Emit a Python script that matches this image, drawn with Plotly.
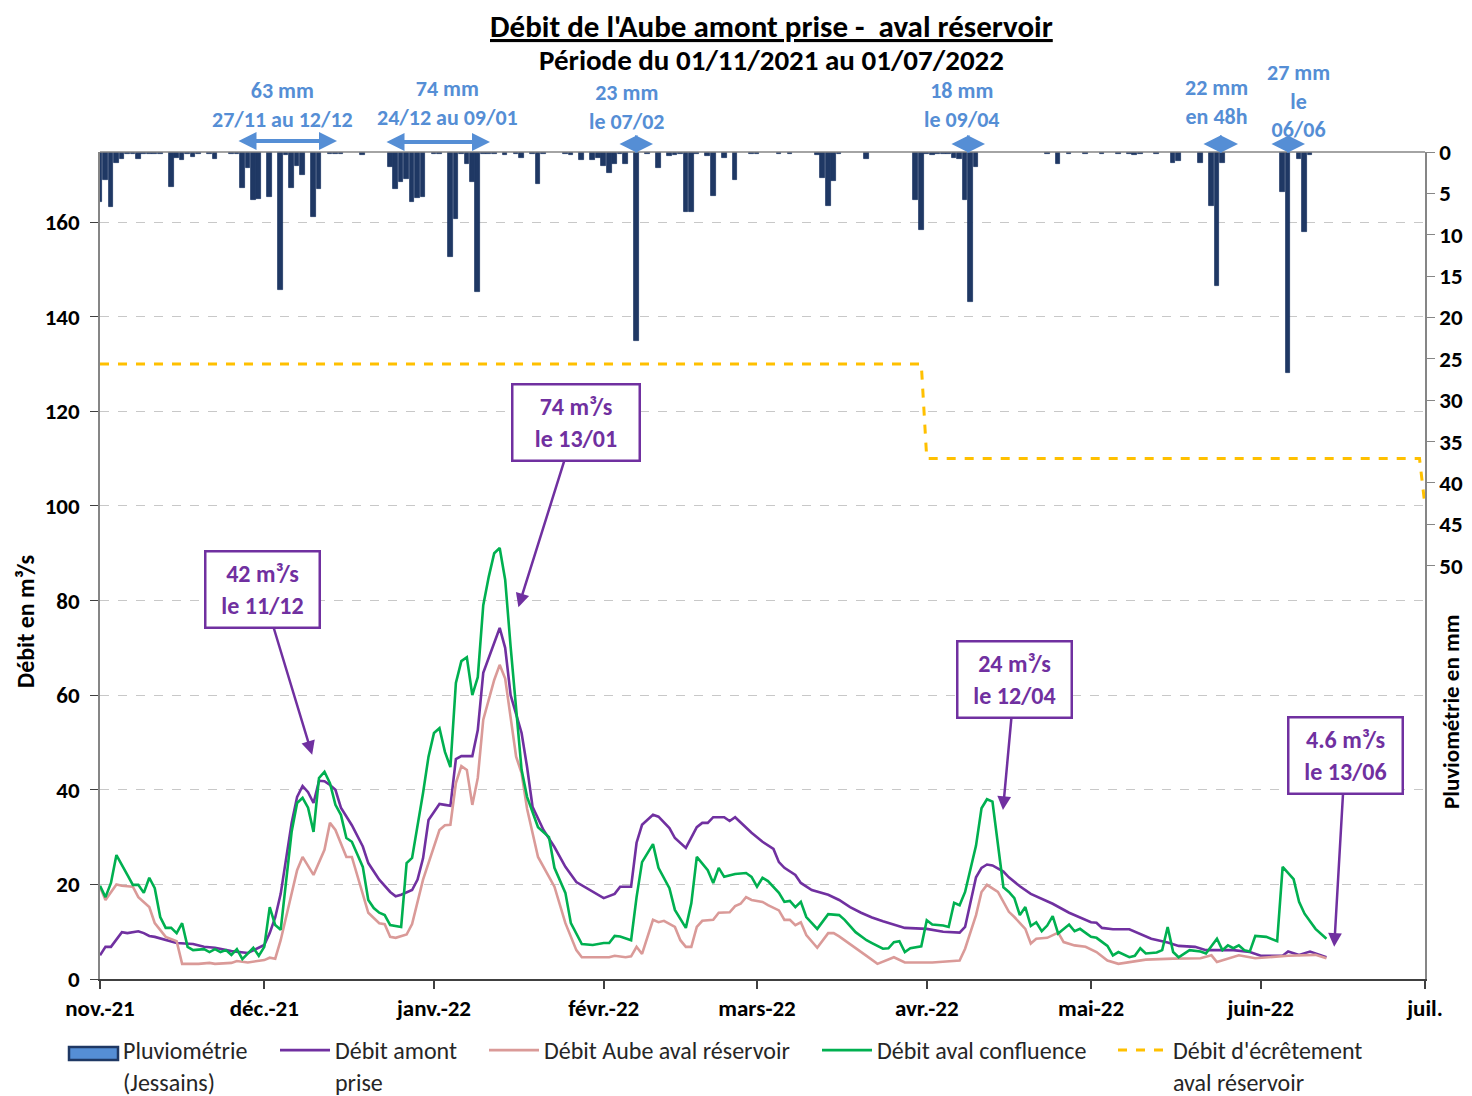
import plotly.graph_objects as go

# Pluviométrie à Jessains (mm / jour)
pluie_dates = [
    "2021-11-01", "2021-11-02", "2021-11-03", "2021-11-04", "2021-11-05", "2021-11-06", "2021-11-07",
    "2021-11-08", "2021-11-09", "2021-11-10", "2021-11-11", "2021-11-12", "2021-11-14", "2021-11-15",
    "2021-11-16", "2021-11-17", "2021-11-18", "2021-11-19", "2021-11-21", "2021-11-22", "2021-11-25",
    "2021-11-26", "2021-11-27", "2021-11-28", "2021-11-29", "2021-11-30", "2021-12-02", "2021-12-04",
    "2021-12-05", "2021-12-06", "2021-12-07", "2021-12-08", "2021-12-10", "2021-12-11", "2021-12-13",
    "2021-12-14", "2021-12-15", "2021-12-19", "2021-12-24", "2021-12-25", "2021-12-26", "2021-12-27",
    "2021-12-28", "2021-12-29", "2021-12-30", "2022-01-01", "2022-01-02", "2022-01-04", "2022-01-05",
    "2022-01-06", "2022-01-07", "2022-01-08", "2022-01-09", "2022-01-10", "2022-01-11", "2022-01-12",
    "2022-01-14", "2022-01-16", "2022-01-17", "2022-01-19", "2022-01-20", "2022-01-21", "2022-01-25",
    "2022-01-26", "2022-01-28", "2022-01-30", "2022-01-31", "2022-02-01", "2022-02-02", "2022-02-03",
    "2022-02-04", "2022-02-05", "2022-02-07", "2022-02-09", "2022-02-11", "2022-02-13", "2022-02-14",
    "2022-02-15", "2022-02-16", "2022-02-17", "2022-02-18", "2022-02-20", "2022-02-21", "2022-02-23",
    "2022-02-25", "2022-02-28", "2022-03-01", "2022-03-05", "2022-03-07", "2022-03-12", "2022-03-13",
    "2022-03-14", "2022-03-15", "2022-03-16", "2022-03-21", "2022-03-30", "2022-03-31", "2022-04-01",
    "2022-04-02", "2022-04-03", "2022-04-04", "2022-04-05", "2022-04-06", "2022-04-07", "2022-04-08",
    "2022-04-09", "2022-04-10", "2022-04-23", "2022-04-25", "2022-04-27", "2022-04-30", "2022-05-03",
    "2022-05-06", "2022-05-08", "2022-05-09", "2022-05-10", "2022-05-13", "2022-05-16", "2022-05-17",
    "2022-05-21", "2022-05-23", "2022-05-24", "2022-05-25", "2022-06-05", "2022-06-06", "2022-06-08",
    "2022-06-09", "2022-06-10",
]
pluie_mm = [
    6.0, 3.4, 6.7, 1.3, 0.9, 0.3, 0.3,
    0.9, 0.2, 0.2, 0.3, 0.2, 4.2, 0.7,
    1.0, 0.3, 0.6, 0.2, 0.2, 0.9, 0.2,
    0.3, 4.4, 1.9, 5.8, 5.7, 5.5, 16.7,
    0.4, 4.4, 1.7, 2.8, 7.8, 4.5, 0.3,
    0.2, 0.2, 0.4, 1.8, 4.5, 3.6, 3.3,
    6.0, 5.6, 5.5, 0.3, 0.3, 12.7, 8.1,
    0.2, 1.5, 3.6, 16.9, 0.3, 0.3, 0.2,
    0.4, 0.3, 0.7, 0.3, 3.9, 0.2, 0.3,
    0.4, 1.0, 1.0, 0.7, 1.7, 2.5, 1.5,
    0.3, 1.5, 22.8, 0.3, 1.9, 0.5, 0.4,
    0.3, 7.3, 7.3, 0.3, 0.5, 5.3, 0.7,
    3.4, 0.3, 0.3, 0.3, 0.3, 0.4, 3.1,
    6.5, 3.5, 0.3, 0.9, 5.8, 9.4, 0.3,
    0.4, 0.3, 0.3, 0.3, 0.7, 0.9, 5.8,
    18.1, 1.8, 0.3, 1.5, 0.2, 0.2, 0.2,
    0.2, 0.2, 0.4, 0.2, 0.2, 1.3, 1.1,
    1.3, 6.5, 16.2, 1.3, 4.8, 26.7, 0.9,
    9.7, 0.4,
]

# Débit amont prise (m3/s)
amont_dates = [
    "2021-11-01", "2021-11-02", "2021-11-03", "2021-11-05", "2021-11-06", "2021-11-08", "2021-11-09",
    "2021-11-10", "2021-11-11", "2021-11-13", "2021-11-15", "2021-11-18", "2021-11-20", "2021-11-22",
    "2021-11-25", "2021-11-28", "2021-11-30", "2021-12-01", "2021-12-02", "2021-12-03", "2021-12-04",
    "2021-12-05", "2021-12-06", "2021-12-07", "2021-12-08", "2021-12-09", "2021-12-10", "2021-12-11",
    "2021-12-12", "2021-12-13", "2021-12-14", "2021-12-15", "2021-12-17", "2021-12-19", "2021-12-20",
    "2021-12-22", "2021-12-24", "2021-12-25", "2021-12-26", "2021-12-28", "2021-12-29", "2021-12-30",
    "2021-12-31", "2022-01-01", "2022-01-02", "2022-01-03", "2022-01-04", "2022-01-05", "2022-01-06",
    "2022-01-08", "2022-01-09", "2022-01-10", "2022-01-11", "2022-01-12", "2022-01-13", "2022-01-14",
    "2022-01-15", "2022-01-17", "2022-01-18", "2022-01-19", "2022-01-21", "2022-01-23", "2022-01-25",
    "2022-01-27", "2022-01-30", "2022-02-01", "2022-02-03", "2022-02-04", "2022-02-06", "2022-02-07",
    "2022-02-08", "2022-02-10", "2022-02-11", "2022-02-13", "2022-02-14", "2022-02-16", "2022-02-18",
    "2022-02-19", "2022-02-20", "2022-02-21", "2022-02-23", "2022-02-24", "2022-02-25", "2022-02-27",
    "2022-02-28", "2022-03-02", "2022-03-04", "2022-03-05", "2022-03-06", "2022-03-08", "2022-03-09",
    "2022-03-11", "2022-03-14", "2022-03-16", "2022-03-18", "2022-03-20", "2022-03-22", "2022-03-24",
    "2022-03-26", "2022-03-28", "2022-04-01", "2022-04-04", "2022-04-07", "2022-04-08", "2022-04-10",
    "2022-04-11", "2022-04-12", "2022-04-13", "2022-04-15", "2022-04-16", "2022-04-18", "2022-04-20",
    "2022-04-24", "2022-04-27", "2022-05-01", "2022-05-02", "2022-05-03", "2022-05-05", "2022-05-08",
    "2022-05-12", "2022-05-15", "2022-05-17", "2022-05-20", "2022-05-22", "2022-05-27", "2022-05-30",
    "2022-06-01", "2022-06-05", "2022-06-06", "2022-06-08", "2022-06-10", "2022-06-13",
]
amont_debit = [
    5.0, 6.8, 6.8, 9.9, 9.7, 10.1, 9.7,
    9.1, 8.9, 8.2, 7.6, 7.4, 6.8, 6.6,
    5.9, 5.5, 6.6, 7.2, 9.7, 13.0, 18.0,
    26.0, 33.0, 38.5, 40.8, 39.5, 37.2, 41.9,
    41.8, 41.0, 40.0, 36.2, 32.5, 28.0, 24.5,
    21.0, 18.4, 17.5, 17.8, 18.8, 21.0, 25.5,
    33.6, 35.3, 37.0, 36.8, 36.6, 46.5, 47.1,
    47.1, 52.6, 64.7, 68.0, 71.0, 74.2, 70.0,
    60.0, 52.0, 44.8, 36.4, 31.5, 27.9, 23.7,
    20.5, 18.4, 17.1, 18.0, 19.5, 19.5, 28.8,
    32.6, 34.7, 34.3, 31.9, 29.8, 27.7, 32.1,
    33.0, 33.0, 34.2, 34.2, 33.4, 34.2, 31.9,
    30.9, 29.0, 27.5, 24.7, 23.5, 22.0, 20.3,
    18.8, 17.8, 16.7, 15.2, 14.0, 13.0, 12.2,
    11.5, 10.8, 10.6, 10.0, 9.8, 11.0, 21.5,
    23.5, 24.2, 24.0, 22.7, 21.5, 19.6, 18.0,
    15.9, 14.0, 12.0, 11.9, 10.8, 10.5, 10.5,
    8.5, 7.7, 7.0, 6.8, 6.1, 6.1, 5.7,
    4.9, 4.9, 5.8, 5.1, 5.8, 4.6,
]

# Débit Aube aval réservoir (m3/s)
aval_res_dates = [
    "2021-11-01", "2021-11-02", "2021-11-04", "2021-11-05", "2021-11-07", "2021-11-08", "2021-11-10",
    "2021-11-11", "2021-11-13", "2021-11-14", "2021-11-15", "2021-11-16", "2021-11-19", "2021-11-21",
    "2021-11-22", "2021-11-25", "2021-11-26", "2021-11-28", "2021-11-30", "2021-12-01", "2021-12-02",
    "2021-12-03", "2021-12-04", "2021-12-06", "2021-12-07", "2021-12-08", "2021-12-10", "2021-12-12",
    "2021-12-13", "2021-12-14", "2021-12-16", "2021-12-17", "2021-12-19", "2021-12-20", "2021-12-22",
    "2021-12-23", "2021-12-24", "2021-12-25", "2021-12-27", "2021-12-28", "2021-12-30", "2022-01-01",
    "2022-01-02", "2022-01-03", "2022-01-04", "2022-01-05", "2022-01-06", "2022-01-07", "2022-01-08",
    "2022-01-09", "2022-01-10", "2022-01-12", "2022-01-13", "2022-01-14", "2022-01-15", "2022-01-16",
    "2022-01-17", "2022-01-18", "2022-01-20", "2022-01-23", "2022-01-25", "2022-01-27", "2022-01-28",
    "2022-01-31", "2022-02-02", "2022-02-03", "2022-02-05", "2022-02-06", "2022-02-07", "2022-02-08",
    "2022-02-10", "2022-02-11", "2022-02-12", "2022-02-14", "2022-02-15", "2022-02-16", "2022-02-17",
    "2022-02-18", "2022-02-19", "2022-02-21", "2022-02-22", "2022-02-24", "2022-02-25", "2022-02-26",
    "2022-02-27", "2022-02-28", "2022-03-02", "2022-03-03", "2022-03-05", "2022-03-06", "2022-03-07",
    "2022-03-08", "2022-03-09", "2022-03-10", "2022-03-12", "2022-03-14", "2022-03-15", "2022-03-16",
    "2022-03-19", "2022-03-21", "2022-03-23", "2022-03-26", "2022-03-28", "2022-04-02", "2022-04-07",
    "2022-04-08", "2022-04-10", "2022-04-11", "2022-04-12", "2022-04-14", "2022-04-16", "2022-04-17",
    "2022-04-19", "2022-04-20", "2022-04-21", "2022-04-23", "2022-04-25", "2022-04-26", "2022-04-28",
    "2022-04-30", "2022-05-02", "2022-05-04", "2022-05-06", "2022-05-11", "2022-05-16", "2022-05-21",
    "2022-05-23", "2022-05-24", "2022-05-28", "2022-05-31", "2022-06-06", "2022-06-11", "2022-06-13",
]
aval_res_debit = [
    19.5, 16.7, 20.0, 19.7, 19.5, 17.3, 15.2,
    11.8, 8.9, 8.5, 8.0, 3.2, 3.2, 3.4,
    3.2, 3.4, 3.8, 3.5, 3.8, 4.0, 4.5,
    4.3, 8.2, 18.2, 23.0, 25.8, 22.0, 27.3,
    33.0, 31.5, 25.8, 25.8, 18.2, 14.0, 11.8,
    11.6, 8.9, 8.7, 9.4, 11.6, 21.0, 28.0,
    31.5, 32.5, 32.6, 41.4, 45.0, 44.2, 36.8,
    42.5, 54.8, 63.2, 66.4, 63.5, 55.0, 47.0,
    43.5, 36.0, 25.8, 19.5, 11.8, 6.1, 4.6,
    4.6, 4.6, 4.9, 4.6, 4.8, 6.8, 5.3,
    12.5, 12.0, 12.3, 11.0, 8.2, 6.8, 6.8,
    11.0, 12.3, 12.5, 14.0, 14.1, 15.4, 15.9,
    17.3, 16.7, 16.3, 15.6, 14.5, 12.5, 12.5,
    11.4, 12.0, 9.3, 6.6, 9.7, 9.7, 9.0,
    6.6, 4.9, 3.2, 4.6, 3.5, 3.5, 3.9,
    6.4, 13.5, 18.4, 19.9, 18.4, 14.2, 13.1,
    10.6, 7.5, 8.5, 8.7, 9.8, 7.8, 7.1,
    6.8, 5.7, 3.9, 3.2, 4.1, 4.3, 4.4,
    5.0, 3.6, 5.0, 4.4, 4.9, 5.1, 4.4,
]

# Débit aval confluence (m3/s)
confluence_dates = [
    "2021-11-01", "2021-11-02", "2021-11-03", "2021-11-04", "2021-11-06", "2021-11-07", "2021-11-08",
    "2021-11-09", "2021-11-10", "2021-11-11", "2021-11-12", "2021-11-13", "2021-11-14", "2021-11-15",
    "2021-11-16", "2021-11-17", "2021-11-18", "2021-11-20", "2021-11-21", "2021-11-22", "2021-11-23",
    "2021-11-24", "2021-11-25", "2021-11-26", "2021-11-27", "2021-11-28", "2021-11-29", "2021-11-30",
    "2021-12-01", "2021-12-02", "2021-12-03", "2021-12-04", "2021-12-06", "2021-12-07", "2021-12-08",
    "2021-12-09", "2021-12-10", "2021-12-11", "2021-12-12", "2021-12-13", "2021-12-14", "2021-12-15",
    "2021-12-16", "2021-12-17", "2021-12-19", "2021-12-20", "2021-12-21", "2021-12-22", "2021-12-23",
    "2021-12-24", "2021-12-26", "2021-12-27", "2021-12-28", "2021-12-30", "2021-12-31", "2022-01-01",
    "2022-01-02", "2022-01-03", "2022-01-04", "2022-01-05", "2022-01-06", "2022-01-07", "2022-01-08",
    "2022-01-09", "2022-01-10", "2022-01-11", "2022-01-12", "2022-01-13", "2022-01-14", "2022-01-15",
    "2022-01-16", "2022-01-17", "2022-01-18", "2022-01-20", "2022-01-22", "2022-01-23", "2022-01-25",
    "2022-01-26", "2022-01-28", "2022-01-30", "2022-02-01", "2022-02-02", "2022-02-03", "2022-02-04",
    "2022-02-06", "2022-02-07", "2022-02-08", "2022-02-10", "2022-02-11", "2022-02-13", "2022-02-14",
    "2022-02-16", "2022-02-17", "2022-02-18", "2022-02-20", "2022-02-21", "2022-02-22", "2022-02-23",
    "2022-02-25", "2022-02-27", "2022-02-28", "2022-03-01", "2022-03-02", "2022-03-03", "2022-03-05",
    "2022-03-06", "2022-03-07", "2022-03-08", "2022-03-09", "2022-03-10", "2022-03-12", "2022-03-14",
    "2022-03-16", "2022-03-17", "2022-03-19", "2022-03-21", "2022-03-22", "2022-03-24", "2022-03-25",
    "2022-03-26", "2022-03-27", "2022-03-28", "2022-03-29", "2022-03-31", "2022-04-01", "2022-04-02",
    "2022-04-04", "2022-04-05", "2022-04-06", "2022-04-07", "2022-04-08", "2022-04-10", "2022-04-11",
    "2022-04-12", "2022-04-13", "2022-04-14", "2022-04-15", "2022-04-16", "2022-04-17", "2022-04-18",
    "2022-04-19", "2022-04-20", "2022-04-21", "2022-04-22", "2022-04-23", "2022-04-24", "2022-04-25",
    "2022-04-27", "2022-04-28", "2022-04-29", "2022-05-01", "2022-05-02", "2022-05-04", "2022-05-05",
    "2022-05-06", "2022-05-08", "2022-05-09", "2022-05-10", "2022-05-11", "2022-05-13", "2022-05-14",
    "2022-05-15", "2022-05-16", "2022-05-17", "2022-05-19", "2022-05-21", "2022-05-22", "2022-05-24",
    "2022-05-25", "2022-05-26", "2022-05-27", "2022-05-28", "2022-05-29", "2022-05-30", "2022-05-31",
    "2022-06-02", "2022-06-04", "2022-06-05", "2022-06-07", "2022-06-08", "2022-06-09", "2022-06-11",
    "2022-06-13",
]
confluence_debit = [
    19.7, 17.3, 20.3, 26.2, 22.0, 19.9, 19.9,
    18.2, 21.4, 19.2, 13.1, 10.8, 10.8, 9.7,
    11.8, 6.8, 6.1, 6.3, 5.7, 6.3, 5.7,
    6.1, 5.1, 6.3, 4.2, 5.3, 6.6, 4.9,
    6.8, 15.2, 11.4, 10.4, 31.1, 37.2, 38.3,
    36.2, 31.1, 42.5, 43.8, 41.4, 36.8, 34.7,
    29.8, 29.0, 23.7, 16.7, 15.0, 14.0, 13.5,
    11.4, 11.0, 24.5, 25.6, 39.3, 47.0, 52.0,
    53.0, 48.0, 44.8, 62.6, 67.2, 68.0, 60.0,
    63.8, 79.0, 85.0, 90.0, 91.1, 84.4, 70.2,
    57.5, 44.2, 38.5, 32.1, 30.0, 23.5, 18.2,
    11.8, 7.4, 7.2, 7.6, 7.6, 9.1, 9.0,
    8.2, 17.3, 24.7, 28.5, 23.5, 19.2, 14.6,
    10.8, 16.0, 25.8, 23.0, 20.3, 23.5, 21.6,
    22.2, 22.4, 21.6, 19.5, 21.4, 20.7, 18.2,
    16.3, 16.5, 15.2, 16.3, 13.1, 10.6, 13.7,
    13.5, 12.5, 9.9, 8.2, 7.6, 6.4, 6.5,
    7.8, 8.0, 5.7, 6.5, 6.9, 12.4, 11.5,
    11.3, 11.0, 16.1, 15.6, 18.4, 28.2, 36.1,
    38.0, 37.5, 28.9, 19.4, 18.4, 17.1, 13.5,
    15.2, 11.2, 12.0, 10.1, 11.3, 13.3, 9.6,
    11.5, 10.1, 10.6, 8.9, 8.7, 7.0, 5.0,
    5.7, 4.6, 4.9, 6.5, 5.4, 5.6, 6.1,
    11.0, 5.7, 4.6, 6.1, 5.8, 5.4, 8.5,
    6.1, 7.1, 6.5, 7.1, 6.1, 5.8, 9.1,
    8.9, 8.0, 23.7, 21.1, 16.3, 13.8, 10.6,
    8.5,
]

# Débit d'écrêtement aval réservoir (m3/s)
ecretement_dates = ["2021-11-01", "2022-03-31", "2022-04-01", "2022-06-30", "2022-07-01"]
ecretement_debit = [130, 130, 110, 110, 100]

mois_ticks = ["2021-11-01", "2021-12-01", "2022-01-01", "2022-02-01", "2022-03-01",
              "2022-04-01", "2022-05-01", "2022-06-01", "2022-07-01"]
mois_labels = ["nov.-21", "déc.-21", "janv.-22", "févr.-22", "mars-22",
               "avr.-22", "mai-22", "juin-22", "juil."]

FONT = "Carlito, Calibri, Lato, sans-serif"
VIOLET = "#7030A0"
BLEU = "#558ED5"
MARINE = "#1F3864"


# positions dans l'image (pixels) -> coordonnées papier de la zone de tracé
def px_x(px):
    return (px - 100) / 1325


def px_y(py):
    return (979 - py) / 827


fig = go.Figure()

fig.add_trace(go.Bar(
    x=pluie_dates, y=pluie_mm, yaxis="y2", name="Pluviométrie<br>(Jessains)",
    width=0.85 * 86400000, marker=dict(color=MARINE, line=dict(color=MARINE, width=0.8)),
    showlegend=False,
))
# entrée de légende de la pluie : le symbole (rectangle à la Excel) est dessiné par une forme
fig.add_trace(go.Scatter(
    x=[None], y=[None], yaxis="y2", mode="lines", name="Pluviométrie<br>(Jessains)",
    line=dict(color="rgba(0,0,0,0)", width=0), legend="legend",
))
fig.add_trace(go.Scatter(
    x=amont_dates, y=amont_debit, mode="lines", name="Débit amont<br>prise",
    line=dict(color=VIOLET, width=2.6), legend="legend2",
))
fig.add_trace(go.Scatter(
    x=aval_res_dates, y=aval_res_debit, mode="lines", name="Débit Aube aval réservoir",
    line=dict(color="#DA9A98", width=2.6), legend="legend3",
))
fig.add_trace(go.Scatter(
    x=confluence_dates, y=confluence_debit, mode="lines", name="Débit aval confluence",
    line=dict(color="#00B050", width=2.6), legend="legend4",
))
fig.add_trace(go.Scatter(
    x=ecretement_dates, y=ecretement_debit, mode="lines", name="Débit d'écrêtement<br>aval réservoir",
    line=dict(color="#FFC000", width=3, dash="dash"), legend="legend5",
))

ann = []
centre = dict(xref="paper", yref="paper", xanchor="center", yanchor="middle", showarrow=False)
# titre
ann.append(dict(x=px_x(772), y=px_y(26), **centre,
                text="<b><u>Débit de l'Aube amont prise -  aval réservoir</u></b>",
                font=dict(size=31, color="black")))
ann.append(dict(x=px_x(772), y=px_y(60), **centre,
                text="<b>Période du 01/11/2021 au 01/07/2022</b>",
                font=dict(size=29, color="black")))

# titres d'axes
ann.append(dict(x=px_x(25), y=px_y(622), **centre, textangle=-90,
                text="<b>Débit en m³/s</b>", font=dict(size=24, color="black")))
ann.append(dict(x=px_x(1451), y=px_y(712), **centre, textangle=-90,
                text="<b>Pluviométrie en mm</b>", font=dict(size=23, color="black")))

# cumuls de pluie
pluie_notes = [
    (282, 105, "63 mm<br>27/11 au 12/12", 237, 337, 141),
    (447, 103, "74 mm<br>24/12 au 09/01", 385, 490, 142),
    (627, 107, "23 mm<br>le 07/02", 618, 653, 144),
    (962, 105, "18 mm<br>le 09/04", 950, 985, 144),
    (1216, 102, "22 mm<br>en 48h", 1202, 1238, 144),
    (1298, 101, "27 mm<br>le<br>06/06", 1270, 1305, 144),
]
for px, py, txt, x0, x1, ya in pluie_notes:
    ann.append(dict(x=px_x(px), y=px_y(py), **centre, text="<b>" + txt + "</b>",
                    font=dict(size=22, color=BLEU)))
    ann.append(dict(xref="paper", yref="paper", x=px_x(x1), y=px_y(ya),
                    ax=x0 - x1, ay=0, axref="pixel", ayref="pixel", text="",
                    showarrow=True, arrowside="end+start", arrowhead=2, arrowsize=0.9,
                    arrowwidth=4, arrowcolor=BLEU))

# bulles de débit
bulles = [
    ("2021-12-09 18:00", 47.4, "42 m³/s<br>le 11/12", -50, -165, 108),
    ("2022-01-16 10:00", 78.6, "74 m³/s<br>le 13/01", 58, -185, 121),
    ("2022-04-14 22:00", 35.7, "24 m³/s<br>le 12/04", 12, -131, 108),
    ("2022-06-14 10:00", 6.8, "4.6 m³/s<br>le 13/06", 11, -191, 108),
]
for bx, by, txt, ax, ay, w in bulles:
    ann.append(dict(x=bx, y=by, xref="x", yref="y", ax=ax, ay=ay, text="<b>" + txt + "</b>",
                    showarrow=True, arrowhead=2, arrowsize=1.1, arrowwidth=2.5,
                    arrowcolor=VIOLET, bordercolor=VIOLET, borderwidth=2.5, bgcolor="white",
                    width=w, height=70, borderpad=2, font=dict(size=24, color=VIOLET)))

leg_common = dict(orientation="h", yanchor="top", xanchor="left", y=px_y(1028),
                  font=dict(size=24, color="#262626"), bgcolor="rgba(0,0,0,0)",
                  itemwidth=50, tracegroupgap=0, valign="top")

# la page ajoute une marge de 8 px : la figure fait 8 px de moins et ses marges en tiennent compte
fig.update_layout(
    width=1464, height=1088,
    margin=dict(l=92, r=47, t=144, b=117, autoexpand=False),
    paper_bgcolor="white", plot_bgcolor="white",
    font=dict(family=FONT, color="black"),
    bargap=0, barmode="overlay",
    showlegend=True,
    legend=dict(x=px_x(63), **leg_common),
    legend2=dict(x=px_x(275), **leg_common),
    legend3=dict(x=px_x(484), **leg_common),
    legend4=dict(x=px_x(817), **leg_common),
    legend5=dict(x=px_x(1113), **leg_common),
    xaxis=dict(
        type="date", range=["2021-11-01", "2022-07-01"],
        tickvals=mois_ticks, ticktext=mois_labels,
        tickfont=dict(size=23, color="black", weight="bold"),
        showgrid=False, showline=True, linecolor="#404040", linewidth=1.5,
        ticks="outside", ticklen=8, tickcolor="#404040", tickwidth=1.5,
    ),
    yaxis=dict(
        range=[0, 174.8], tickvals=[0, 20, 40, 60, 80, 100, 120, 140, 160],
        tickfont=dict(size=23, color="black", weight="bold"),
        showgrid=True, gridcolor="#C8C8C8", griddash="dash", gridwidth=1,
        showline=True, linecolor="#868686", linewidth=1.5,
        ticks="outside", ticklen=8, tickcolor="#404040", zeroline=False,
        ticklabelstandoff=6,
    ),
    yaxis2=dict(
        overlaying="y", side="right", range=[100, 0],
        tickvals=list(range(0, 55, 5)),
        tickfont=dict(size=23, color="black", weight="bold"),
        showgrid=False, showline=True, linecolor="#868686", linewidth=1.5,
        ticks="outside", ticklen=8, tickcolor="#868686", zeroline=False,
    ),
    annotations=ann,
    shapes=[
        dict(type="line", xref="paper", yref="paper", x0=0, x1=1, y0=1, y1=1,
             line=dict(color="#868686", width=1.5)),
        # symbole de légende de la pluviométrie
        dict(type="rect", xref="paper", yref="paper",
             x0=px_x(69), x1=px_x(118), y0=px_y(1060), y1=px_y(1047),
             fillcolor="#558ED5", line=dict(color=MARINE, width=2.5)),
    ],
)

fig.write_html("out.html")
